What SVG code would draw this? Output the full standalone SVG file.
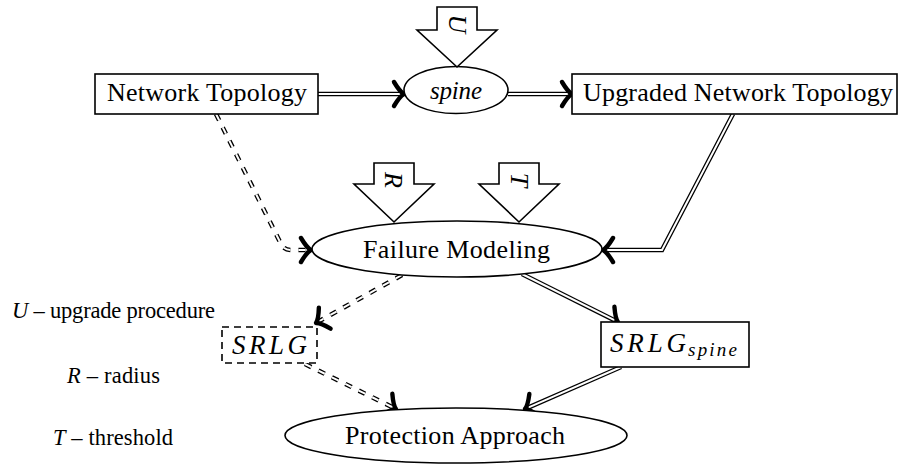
<svg xmlns="http://www.w3.org/2000/svg" width="901" height="466" viewBox="0 0 901 466" font-family="'Liberation Serif', 'DejaVu Serif', serif">
<style>
  text { font-family: 'Liberation Serif', 'DejaVu Serif', serif; font-size: 26px; fill: #000; }
  .it { font-style: italic; }
  .lg { font-size: 22.5px; }
  .shape { fill: #fff; stroke: #000; stroke-width: 1.6; }
  .dbo { fill: none; stroke: #000; stroke-width: 4.6; stroke-linejoin: miter; }
  .dbi { fill: none; stroke: #fff; stroke-width: 2.0; stroke-linejoin: miter; }
  .dash { stroke-dasharray: 7 8; }
  .head { fill: none; stroke: #000; stroke-width: 4.4; stroke-linecap: round; stroke-linejoin: round; }
</style>
<defs>
  <path id="chev" d="M-10,-12 Q-4,-2 0,0 Q-4,2 -10,12"/>
</defs>

<g id="connectors">
  <!-- Network Topology -> spine -->
  <path class="dbo" d="M318,94 L400,94"/>
  <path class="dbi" d="M318,94 L400,94"/>
  <use href="#chev" class="head" transform="translate(404,94)"/>
  <!-- spine -> Upgraded -->
  <path class="dbo" d="M508,94 L568,94"/>
  <path class="dbi" d="M508,94 L568,94"/>
  <use href="#chev" class="head" transform="translate(572,94)"/>
  <!-- Network Topology -> Failure Modeling (dashed) -->
  <path class="dbo dash" d="M216,114 L281,244 Q284,250 291,250 L307,250"/>
  <path class="dbi dash" d="M216,114 L281,244 Q284,250 291,250 L307,250"/>
  <use href="#chev" class="head" transform="translate(311,250)"/>
  <!-- Upgraded -> Failure Modeling -->
  <path class="dbo" d="M733,114 L662,250 L607,250"/>
  <path class="dbi" d="M733,114 L662,250 L607,250"/>
  <use href="#chev" class="head" transform="translate(603,250) rotate(180)"/>
  <!-- Failure -> SRLG (dashed) -->
  <path class="dbo dash" d="M402,275 L319.5,321"/>
  <path class="dbi dash" d="M402,275 L319.5,321"/>
  <use href="#chev" class="head" transform="translate(316,323) rotate(150.8)"/>
  <!-- SRLG -> Protection (dashed) -->
  <path class="dbo dash" d="M305,364 L392.4,407.2"/>
  <path class="dbi dash" d="M305,364 L392.4,407.2"/>
  <use href="#chev" class="head" transform="translate(396,409) rotate(26.3)"/>
  <!-- Failure -> SRLG_spine -->
  <path class="dbo" d="M522,274 L614.4,320.2"/>
  <path class="dbi" d="M522,274 L614.4,320.2"/>
  <use href="#chev" class="head" transform="translate(618,322) rotate(26.6)"/>
  <!-- SRLG_spine -> Protection -->
  <path class="dbo" d="M621,367 L528.7,407.4"/>
  <path class="dbi" d="M621,367 L528.7,407.4"/>
  <use href="#chev" class="head" transform="translate(525,409) rotate(156.4)"/>
</g>

<g id="network-topology">
  <rect class="shape" x="95" y="74" width="223" height="40"/>
  <text x="107" y="101" textLength="200" lengthAdjust="spacing">Network Topology</text>
</g>

<g id="spine">
  <ellipse class="shape" cx="456" cy="90" rx="52" ry="23.5"/>
  <text class="it" x="430" y="99" style="font-size:25px" textLength="52" lengthAdjust="spacing">spine</text>
</g>

<g id="upgraded-network-topology">
  <rect class="shape" x="572" y="74" width="325" height="40"/>
  <text x="583" y="101" textLength="310" lengthAdjust="spacing">Upgraded Network Topology</text>
</g>

<g id="input-U">
  <polygon class="shape" points="437,7 477,7 477,30 497,30 457,67 417,30 437,30"/>
  <text class="it" transform="translate(457,24) rotate(90)" text-anchor="middle" dominant-baseline="central">U</text>
</g>

<g id="input-R">
  <polygon class="shape" points="374,163 414,163 414,184 434,184 394,222 354,184 374,184"/>
  <text class="it" transform="translate(393,180) rotate(90)" text-anchor="middle" dominant-baseline="central">R</text>
</g>

<g id="input-T">
  <polygon class="shape" points="499,163 539,163 539,184 559,184 519,222 479,184 499,184"/>
  <text class="it" transform="translate(519,180) rotate(90)" text-anchor="middle" dominant-baseline="central">T</text>
</g>

<g id="failure-modeling">
  <ellipse class="shape" cx="457" cy="249" rx="145" ry="28"/>
  <text x="363" y="258" textLength="187" lengthAdjust="spacing">Failure Modeling</text>
</g>

<g id="srlg">
  <rect class="shape" x="222" y="327" width="95" height="36" stroke-dasharray="7 5"/>
  <text class="it" x="232" y="354" style="font-size:27px" textLength="75" lengthAdjust="spacing">SRLG</text>
</g>

<g id="srlg-spine">
  <rect class="shape" x="601" y="322" width="148" height="45"/>
  <text class="it" x="610" y="352" style="font-size:27px" textLength="76" lengthAdjust="spacing">SRLG</text>
  <text class="it" x="688" y="356" style="font-size:19px" textLength="49" lengthAdjust="spacing">spine</text>
</g>

<g id="protection-approach">
  <ellipse class="shape" cx="456" cy="435.5" rx="171" ry="27.5"/>
  <text x="345" y="444" textLength="220" lengthAdjust="spacing">Protection Approach</text>
</g>

<g id="legend">
  <text class="lg" x="12" y="318" textLength="203" lengthAdjust="spacing"><tspan class="it">U</tspan> – upgrade procedure</text>
  <text class="lg" x="67" y="383" textLength="93" lengthAdjust="spacing"><tspan class="it">R</tspan> – radius</text>
  <text class="lg" x="53" y="445" textLength="120" lengthAdjust="spacing"><tspan class="it">T</tspan> – threshold</text>
</g>
</svg>
